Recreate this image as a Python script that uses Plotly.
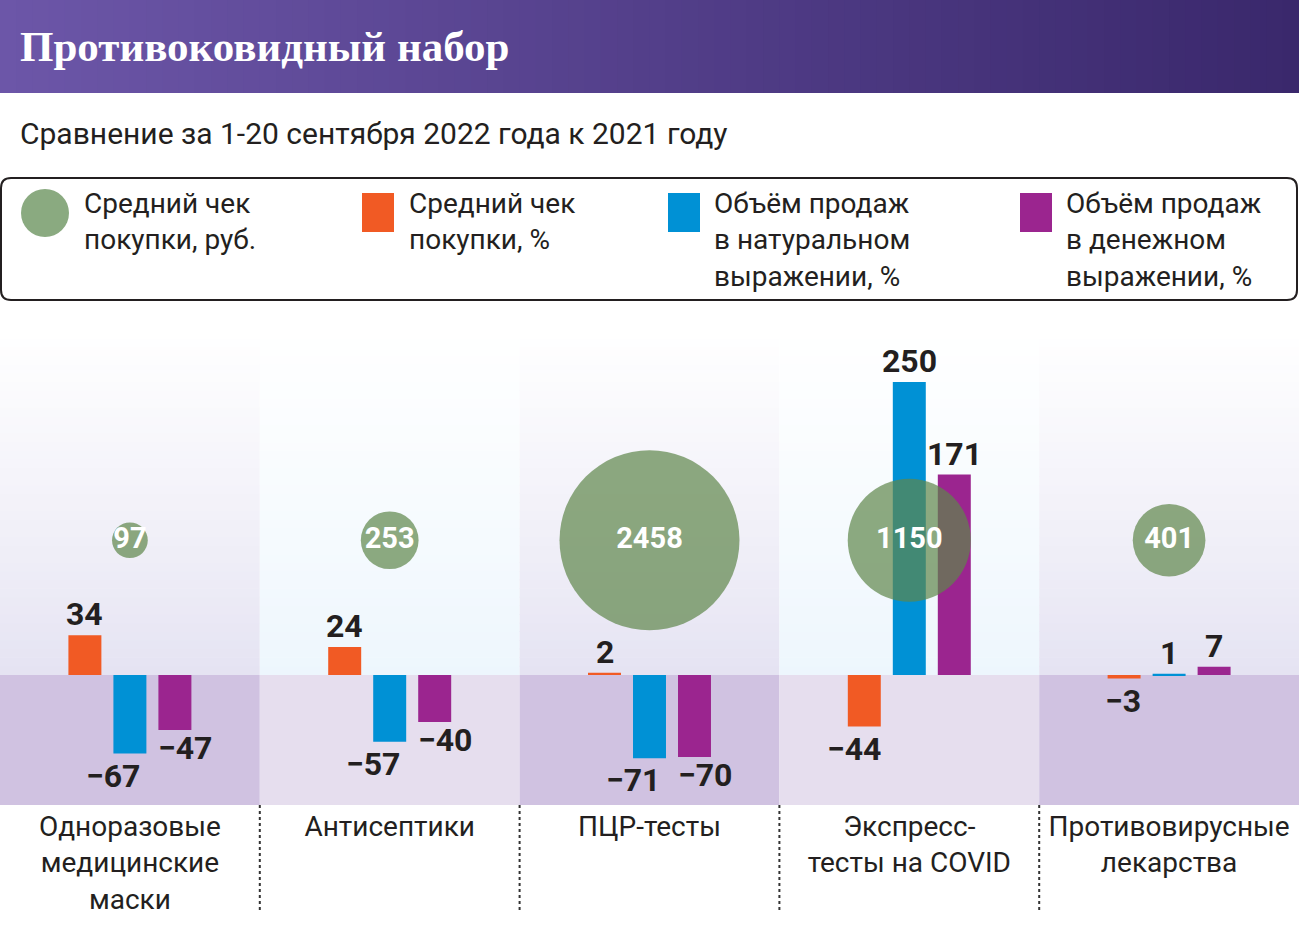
import plotly.graph_objects as go

# ---------------- data ----------------
categories = ["Одноразовые<br>медицинские<br>маски", "Антисептики", "ПЦР-тесты",
              "Экспресс-<br>тесты на COVID", "Противовирусные<br>лекарства"]
avg_check_rub = [97, 253, 2458, 1150, 401]          # Средний чек покупки, руб.
avg_check_pct = [34, 24, 2, -44, -3]                # Средний чек покупки, %
volume_units_pct = [-67, -57, -71, 250, 1]          # Объём продаж в натуральном выражении, %
volume_money_pct = [-47, -40, -70, 171, 7]          # Объём продаж в денежном выражении, %

title_text = "Противоковидный набор"
subtitle_text = "Сравнение за 1-20 сентября 2022 года к 2021 году"
legend_labels = ["Средний чек<br>покупки, руб.", "Средний чек<br>покупки, %",
                 "Объём продаж<br>в натуральном<br>выражении, %",
                 "Объём продаж<br>в денежном<br>выражении, %"]

# ---------------- style ----------------
W, H = 1299, 945
PLOT_TOP, PLOT_BOTTOM = 330, 805
Y_RANGE = [-110.9, 294.4]
BUBBLE_ROW = 115
C_ORANGE = "#f15a24"
C_BLUE = "#0091d5"
C_PURPLE = "#9b258f"
C_GREEN_SOLID = "#8aaa80"
C_GREEN = "rgba(94,134,74,0.7)"
TXT = "#231f20"
SANS = "Roboto, 'Open Sans', sans-serif"
BOLD = "Roboto, 'DejaVu Sans Condensed', sans-serif"
SLOT_PX = 45          # distance between neighbouring bars in a group
HALF_BAR_PX = 16.5    # half of the bar width


def px(x):
    return x / W


def py(y):
    return (PLOT_BOTTOM - y) / (PLOT_BOTTOM - PLOT_TOP)


def fmt(v):
    return ("−" + str(abs(v))) if v < 0 else str(v)


def lerp(c1, c2, t):
    return "rgb(%d,%d,%d)" % tuple(round(a + (b - a) * t) for a, b in zip(c1, c2))


n = len(categories)
xs = list(range(n))
fig = go.Figure()

shapes = []

# header gradient
left_c, right_c = (108, 86, 168), (58, 40, 108)
steps = 80
for i in range(steps):
    t = i / (steps - 1)
    shapes.append(dict(type="rect", xref="paper", yref="paper",
                       x0=px(W * i / steps), x1=px(W * (i + 1) / steps + 1),
                       y0=py(93), y1=py(0), line_width=0,
                       fillcolor=lerp(left_c, right_c, t), layer="below"))

# column backgrounds
top_white = (255, 255, 255)
above_cols = [(228, 226, 242), (237, 246, 253)]
below_cols = ["#d0c2e1", "#e6deee"]
strips = 40
for i in range(n):
    k = i % 2
    shapes.append(dict(type="rect", xref="x", yref="y", x0=i - 0.5, x1=i + 0.5,
                       y0=Y_RANGE[0], y1=0, line_width=0,
                       fillcolor=below_cols[k], layer="below"))
    for s in range(strips):
        v0 = Y_RANGE[1] * s / strips
        v1 = Y_RANGE[1] * (s + 1) / strips
        t = ((s + 0.5) / strips) ** 0.85
        shapes.append(dict(type="rect", xref="x", yref="y", x0=i - 0.5, x1=i + 0.5,
                           y0=v0, y1=v1 + 0.5, line_width=0,
                           fillcolor=lerp(above_cols[k], top_white, t), layer="below"))

# dotted separators below the chart
for i in range(n - 1):
    shapes.append(dict(type="line", xref="x", yref="paper", x0=i + 0.5, x1=i + 0.5,
                       y0=py(805), y1=py(910), line=dict(color="#333333", width=2, dash="dot")))

# legend box (rounded)
bx0, bx1, by0, by1, r = 1, 1297, 178, 300, 10
path = (f"M {px(bx0 + r)},{py(by0)} L {px(bx1 - r)},{py(by0)} "
        f"Q {px(bx1)},{py(by0)} {px(bx1)},{py(by0 + r)} L {px(bx1)},{py(by1 - r)} "
        f"Q {px(bx1)},{py(by1)} {px(bx1 - r)},{py(by1)} L {px(bx0 + r)},{py(by1)} "
        f"Q {px(bx0)},{py(by1)} {px(bx0)},{py(by1 - r)} L {px(bx0)},{py(by0 + r)} "
        f"Q {px(bx0)},{py(by0)} {px(bx0 + r)},{py(by0)} Z")
shapes.append(dict(type="path", xref="paper", yref="paper", path=path,
                   line=dict(color=TXT, width=2), fillcolor="rgba(0,0,0,0)"))

# legend symbols
shapes.append(dict(type="circle", xref="paper", yref="paper", x0=px(21), x1=px(69),
                   y0=py(237), y1=py(189), line_width=0, fillcolor=C_GREEN_SOLID))
for x0, col in [(362, C_ORANGE), (668, C_BLUE), (1020, C_PURPLE)]:
    shapes.append(dict(type="rect", xref="paper", yref="paper", x0=px(x0), x1=px(x0 + 32),
                       y0=py(232), y1=py(193), line_width=0, fillcolor=col))

annotations = []
annotations.append(dict(text="<b>" + title_text + "</b>", xref="paper", yref="paper",
                        x=px(18), y=py(46), xanchor="left", yanchor="middle", showarrow=False,
                        font=dict(family="'Liberation Serif', 'DejaVu Serif', serif", size=43, color="white")))
annotations.append(dict(text=subtitle_text, xref="paper", yref="paper",
                        x=px(18), y=py(134), xanchor="left", yanchor="middle", showarrow=False,
                        font=dict(family=SANS, size=30, color=TXT)))
for lx, lab in zip([82, 407, 712, 1064], legend_labels):
    annotations.append(dict(text=lab, xref="paper", yref="paper", x=px(lx), y=py(185),
                            xanchor="left", yanchor="top", align="left", showarrow=False,
                            font=dict(family=SANS, size=28, color=TXT)))

# ---------------- traces ----------------
series = [(avg_check_pct, C_ORANGE), (volume_units_pct, C_BLUE), (volume_money_pct, C_PURPLE)]
label_font = dict(family=BOLD, size=32, color=TXT, weight="bold")
for si, (vals, col) in enumerate(series):
    fig.add_trace(go.Bar(x=xs, y=vals, marker=dict(color=col, line_width=0), hoverinfo="skip"))
    off = (si - 1) * SLOT_PX
    for i, v in enumerate(vals):
        if v >= 0:
            a = dict(xanchor="center", xshift=off, yshift=21)
        elif si == 2:
            a = dict(xanchor="left", xshift=off - HALF_BAR_PX - 2, yshift=-18)
        elif si == 1:
            a = dict(xanchor="right", xshift=off + HALF_BAR_PX - 4, yshift=-22)
        else:
            a = dict(xanchor="right", xshift=off + HALF_BAR_PX + 2, yshift=-22)
        annotations.append(dict(x=i, y=v, xref="x", yref="y", text="<b>" + fmt(v) + "</b>",
                                showarrow=False, yanchor="middle", font=label_font, **a))

fig.add_trace(go.Scatter(x=xs, y=[BUBBLE_ROW] * n, mode="markers+text",
                         marker=dict(size=avg_check_rub, sizemode="area", sizeref=0.1518,
                                     color=C_GREEN, opacity=1, line_width=0),
                         text=[str(v) for v in avg_check_rub], textposition="middle center",
                         textfont=dict(family=BOLD, size=29, color="white", weight="bold"),
                         cliponaxis=False, hoverinfo="skip"))

fig.update_layout(
    width=W, height=H, margin=dict(l=0, r=0, t=PLOT_TOP, b=H - PLOT_BOTTOM, pad=0),
    paper_bgcolor="white", plot_bgcolor="white", showlegend=False,
    barmode="group", bargap=0.4804, bargroupgap=0.267,
    xaxis=dict(range=[-0.5, n - 0.5], tickvals=xs, ticktext=categories, showgrid=False,
               zeroline=False, showline=False, ticks="", ticklabelstandoff=2,
               tickfont=dict(family=SANS, size=28, color=TXT), fixedrange=True),
    yaxis=dict(range=Y_RANGE, visible=False, showgrid=False, zeroline=False, fixedrange=True),
    shapes=shapes, annotations=annotations,
)

fig.write_html("out.html", config={"displayModeBar": False},
               post_script="document.body.style.margin='0';document.body.style.overflow='hidden';")
